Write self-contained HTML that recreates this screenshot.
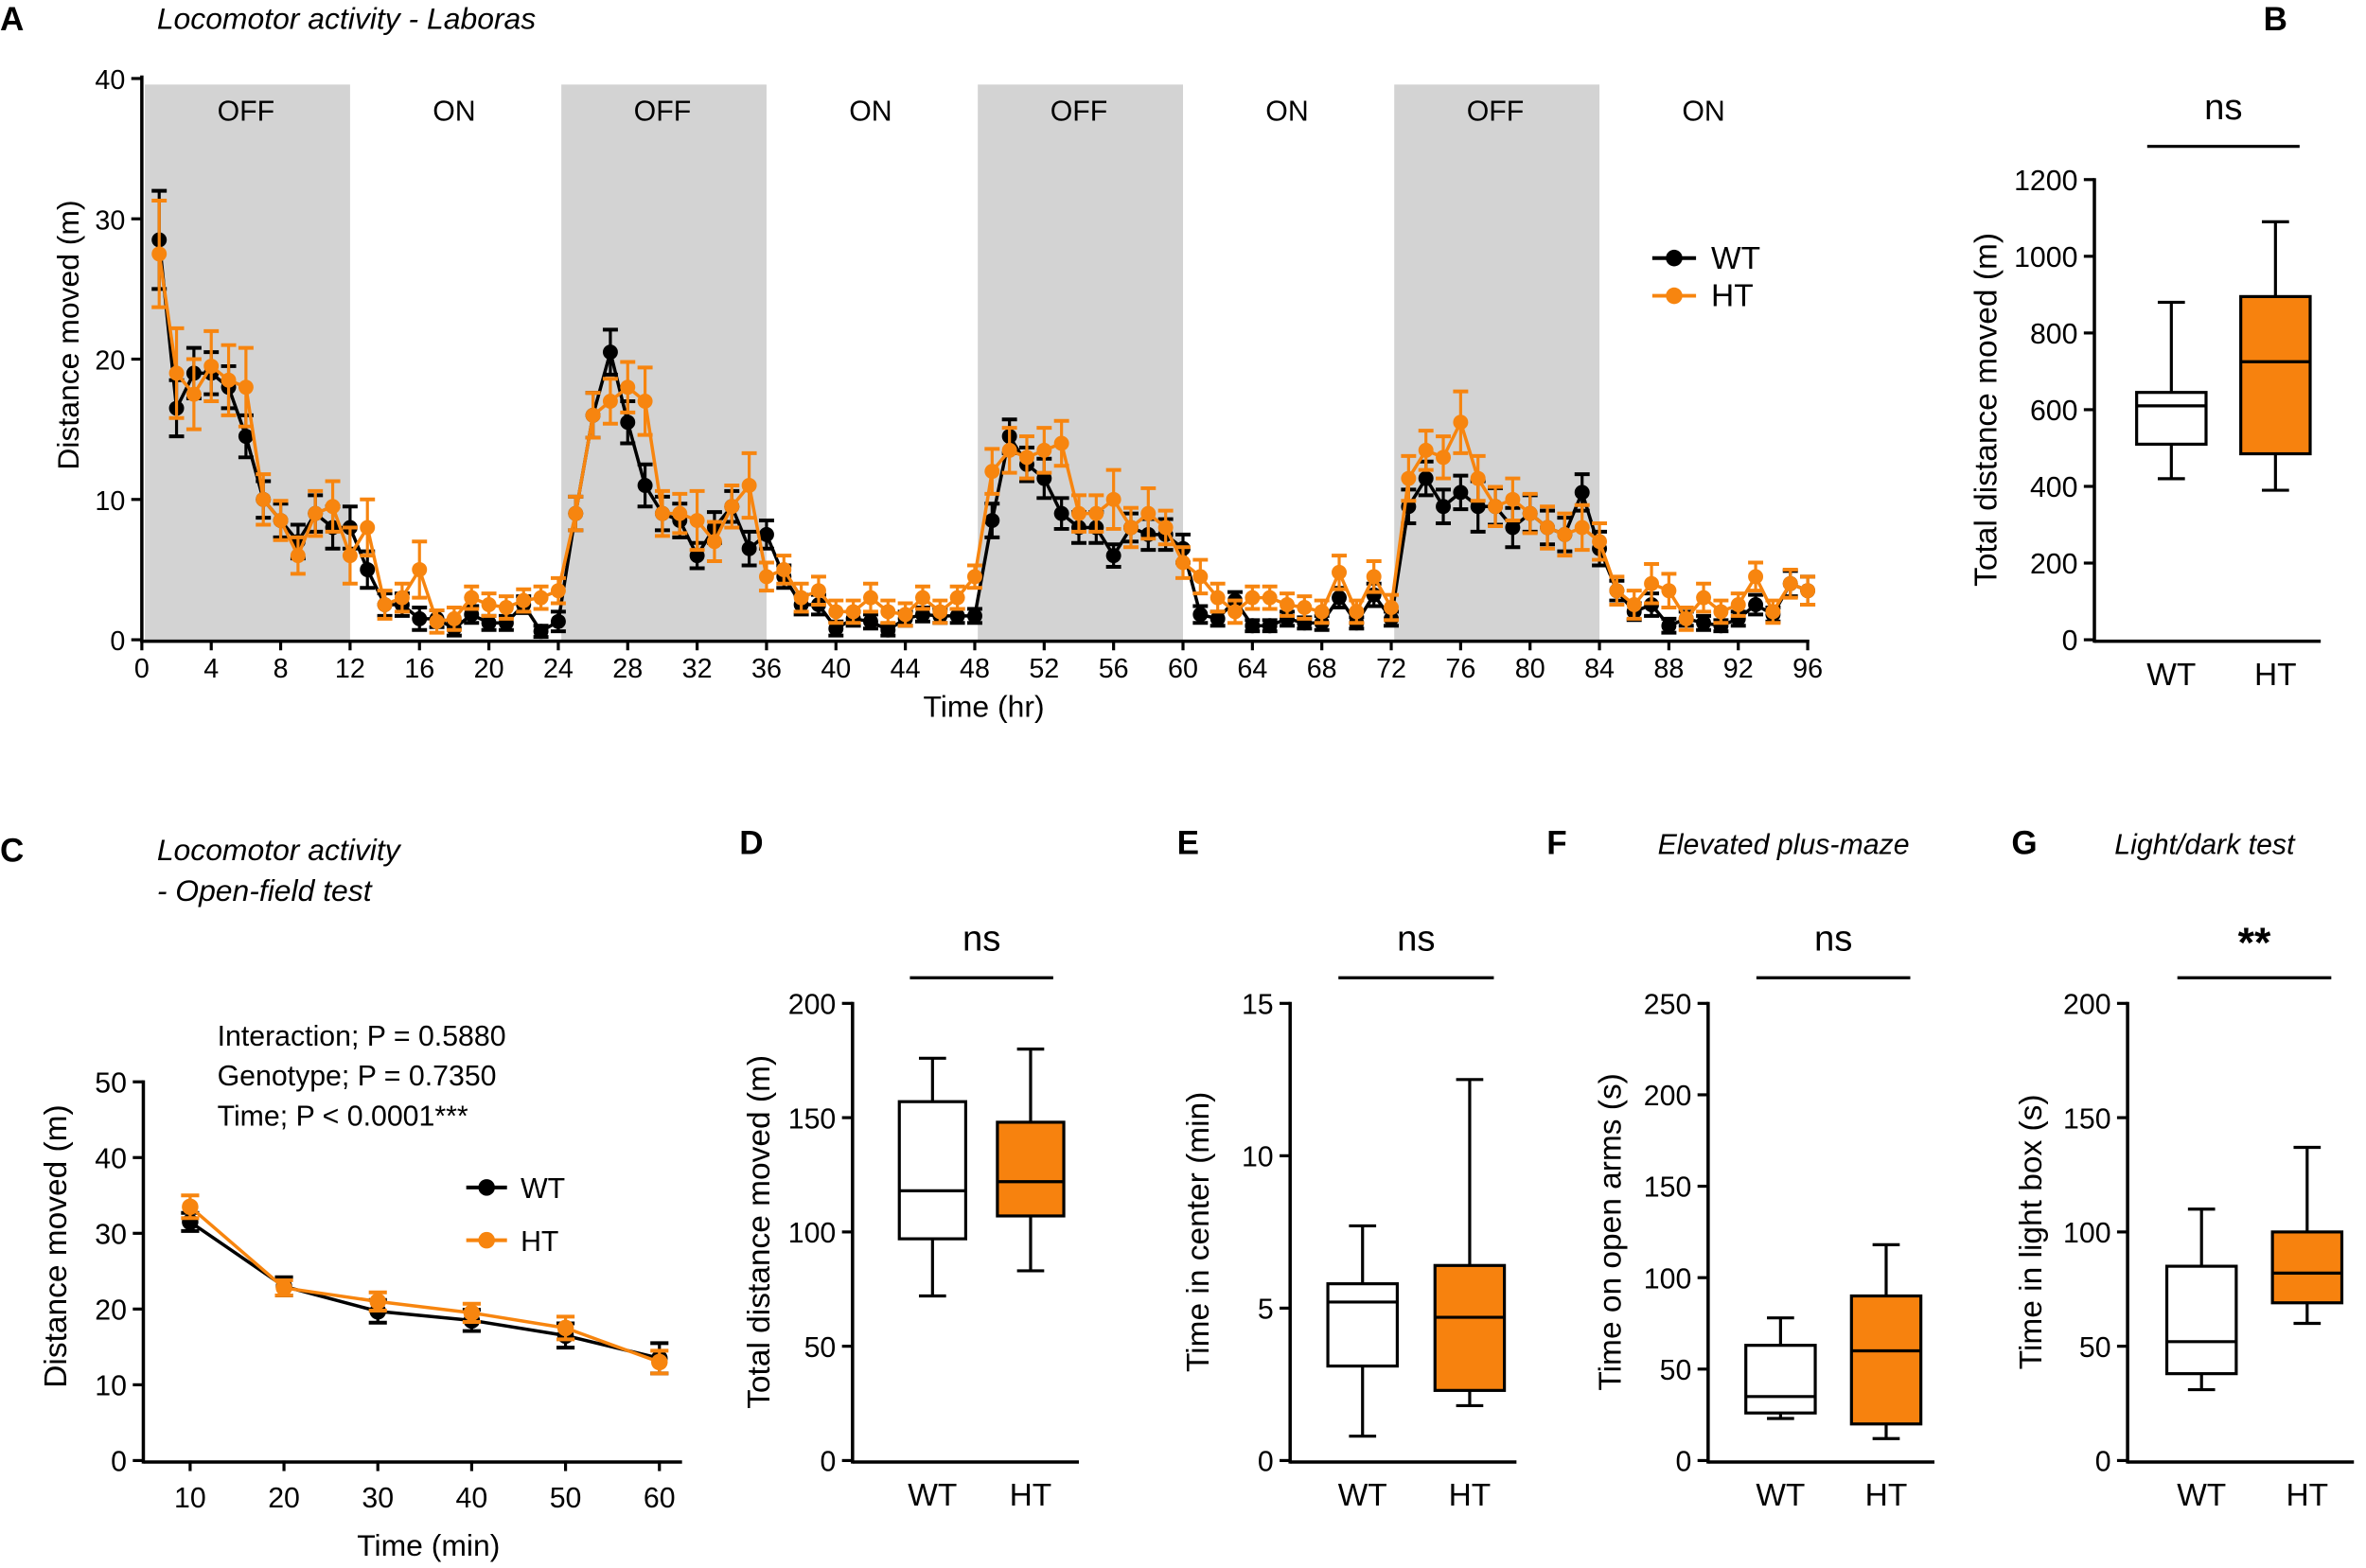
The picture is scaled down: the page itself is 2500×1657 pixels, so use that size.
<!DOCTYPE html>
<html><head><meta charset="utf-8"><style>
html,body{margin:0;padding:0;background:#fff}
svg{display:block}
text{font-family:"Liberation Sans",Arial,sans-serif;fill:#000}
</style></head><body>
<svg id="fig" width="2500" height="1657" viewBox="0 0 1568 1039.2" xmlns="http://www.w3.org/2000/svg"></svg>
<script>
// ---------- Panel A data ----------
const hours = Array.from({length:96},(_,i)=>i+1);
const wtA = [28.5,16.5,19,19,18,14.5,10,8.5,7,9,8,8,5,2.5,2.5,1.5,1.5,0.8,1.8,1.2,1.2,2.5,0.6,1.3,
 9,16,20.5,15.5,11,9,8.5,6,8,9.5,6.5,7.5,4.5,2.5,2.5,0.8,1.5,1.3,0.7,1.5,1.8,1.7,1.7,1.7,
 8.5,14.5,12.5,11.5,9,8,8,6,8,7.5,7.5,6.5,1.8,1.5,2.8,1,1,1.5,1.2,1.2,3,1.2,3.2,1.5,
 9.5,11.5,9.5,10.5,9.5,9.5,8,9,8,7.5,10.5,6.5,3.5,2,2.5,1,1.5,1.2,1,1.5,2.5,1.8,4,3.5];
const htA = [27.5,19,17.5,19.5,18.5,18,10,8.5,6,9,9.5,6,8,2.5,3,5,1.3,1.5,3,2.5,2.3,2.8,3,3.5,
 9,16,17,18,17,9,9,8.5,7,9.5,11,4.5,5,3,3.5,2,2,3,2,1.8,3,2,3,4.5,
 12,13.5,13,13.5,14,9,9,10,8,9,8,5.5,4.5,3,2,3,3,2.5,2.3,2,4.8,2,4.5,2.3,
 11.5,13.5,13,15.5,11.5,9.5,10,9,8,7.5,8,7,3.5,2.5,4,3.5,1.5,3,2,2.5,4.5,2,4,3.5];
const wtErrA = [3.5,2,1.8,1.5,1.5,1.5,1.3,1.2,1.2,1.3,1.5,1.5,1.3,0.8,0.8,0.8,0.6,0.5,0.6,0.5,0.5,0.6,0.4,0.7,
 1.2,1.6,1.6,1.5,1.5,1.2,1.2,0.9,1.1,1.1,1.2,1,0.8,0.7,0.7,0.5,0.5,0.5,0.4,0.5,0.5,0.5,0.5,0.5,
 1.2,1.2,1.2,1.4,1.1,1.1,1.1,0.8,1,1.1,1.1,1,0.6,0.5,0.6,0.4,0.4,0.5,0.4,0.5,0.7,0.4,0.8,0.5,
 1.2,1.2,1.2,1.2,1.8,1.3,1.4,1.3,1.2,1.2,1.3,1.2,0.7,0.6,0.8,0.5,0.5,0.5,0.4,0.5,0.7,0.5,0.9,1];
const htErrA = [3.8,3.2,2.5,2.5,2.5,2.8,1.8,1.4,1.3,1.6,1.8,2,2,1,1,2,0.8,0.8,0.8,0.8,0.8,0.8,0.8,0.9,
 1.2,1.6,1.6,1.8,2.4,1.6,1.4,2.1,1.4,1.5,2.3,1,1,1,1,0.8,0.8,1,0.8,0.8,0.8,0.8,0.8,0.8,
 1.6,1.6,1.5,1.6,1.6,1.3,1.3,2.1,1.4,1.8,1.2,1.1,1.2,1,0.8,0.8,0.8,0.8,0.8,0.8,1.2,0.8,1.1,0.9,
 1.6,1.4,1.5,2.2,1.6,1.4,1.5,1.4,1.5,1.5,1.6,1.3,1,1,1.4,1.2,0.8,1,0.8,0.8,1,0.8,1,1];
const aYTicks = [0,10,20,30,40];
const aXTicks = Array.from({length:25},(_,i)=>i*4);
const phases = [[0,12,'OFF'],[12,24,'ON'],[24,36,'OFF'],[36,48,'ON'],[48,60,'OFF'],[60,72,'ON'],[72,84,'OFF'],[84,96,'ON']];

// ---------- Panel C data ----------
const minutes = [10,20,30,40,50,60];
const wtC = [31.5,23,19.7,18.5,16.5,13.5];
const htC = [33.5,22.8,21,19.5,17.5,13];
const wtErrC = [1.2,1.2,1.5,1.4,1.6,2];
const htErrC = [1.5,1,1.2,1.2,1.5,1.5];
const cYTicks = [0,10,20,30,40,50];

// ---------- Box plot data [min,q1,median,q3,max] ----------
const boxB = {wt:[420,510,610,645,880], ht:[390,485,725,895,1090]};
const boxD = {wt:[72,97,118,157,176], ht:[83,107,122,148,180]};
const boxE = {wt:[0.8,3.1,5.2,5.8,7.7], ht:[1.8,2.3,4.7,6.4,12.5]};
const boxF = {wt:[23,26,35,63,78], ht:[12,20,60,90,118]};
const boxG = {wt:[31,38,52,85,110], ht:[60,69,82,100,137]};
const ticksB = [0,200,400,600,800,1000,1200];
const ticksD = [0,50,100,150,200];
const ticksE = [0,5,10,15];
const ticksF = [0,50,100,150,200,250];
const ticksG = [0,50,100,150,200];

const OR = '#f7850f';
const svg = document.getElementById('fig');
const NS = 'http://www.w3.org/2000/svg';
function mk(tag, attrs, parent){
  const e = document.createElementNS(NS, tag);
  for (const k in attrs) e.setAttribute(k, attrs[k]);
  (parent||svg).appendChild(e);
  return e;
}
function txt(x,y,s,size,anchor,extra){
  const t = mk('text', Object.assign({x:x,y:y,'font-size':size,'text-anchor':anchor||'start'}, extra||{}));
  t.textContent = s;
  return t;
}
function lin(x1,y1,x2,y2,c,w){ return mk('line',{x1:x1,y1:y1,x2:x2,y2:y2,stroke:c||'#000','stroke-width':w||2}); }

// ================= Panel A =================
(function(){
  const x0=94, x1=1198, y0=424, y1=52;
  const X = h => x0 + (x1-x0)*h/96;
  const Y = v => y0 - (y0-y1)*v/40;
  let e = txt(0,20,'A',22,'start',{'font-weight':'bold'});
   
  e = txt(104,19,'Locomotor activity - Laboras',20,'start',{'font-style':'italic'});
   
  phases.forEach(p=>{
    if(p[2]==='OFF'){
      const r = mk('rect',{x:X(p[0])+2,y:56,width:X(p[1])-X(p[0])-2,height:y0-56,fill:'#d3d3d3'});
       
    }
    const t = txt((X(p[0])+X(p[1]))/2,80,p[2],19,'middle');
     
  });
  e = lin(x0,y0+1,x1+1,y0+1,'#000',2.2);  
  e = lin(x0,y1-2,x0,y0+2,'#000',2.2);  
  aYTicks.forEach(v=>{
    lin(x0-7,Y(v),x0,Y(v));
    const t = txt(x0-11,Y(v)+7,String(v),18,'end');
     
  });
  aXTicks.forEach(v=>{
    lin(X(v),y0,X(v),y0+7);
    const t = txt(X(v),y0+25,String(v),18,'middle');
     
  });
  e = txt(652,475,'Time (hr)',20,'middle');  
  e = txt(0,0,'Distance moved (m)',20,'middle',{transform:'translate(52,222) rotate(-90)'});
   
  function series(vals, errs, col, name){
    const g = mk('g',{});
     
    vals.forEach((v,i)=>{
      const x=X(hours[i]);
      mk('line',{x1:x,y1:Y(v-errs[i]),x2:x,y2:Y(v+errs[i]),stroke:col,'stroke-width':2},g);
      mk('line',{x1:x-5,y1:Y(v+errs[i]),x2:x+5,y2:Y(v+errs[i]),stroke:col,'stroke-width':2.5},g);
      mk('line',{x1:x-5,y1:Y(v-errs[i]),x2:x+5,y2:Y(v-errs[i]),stroke:col,'stroke-width':2.5},g);
    });
    mk('polyline',{points:vals.map((v,i)=>X(hours[i])+','+Y(v)).join(' '),fill:'none',stroke:col,'stroke-width':2.2},g);
    vals.forEach((v,i)=>{
      const c = mk('circle',{cx:X(hours[i]),cy:Y(v),r:5,fill:col},g);
       
    });
  }
  series(wtA, wtErrA, '#000', 'a-wt');
  series(htA, htErrA, OR, 'a-ht');
  [['WT','#000',171],['HT',OR,196]].forEach(l=>{
    const g = mk('g',{});
     
    mk('line',{x1:1095,y1:l[2],x2:1124,y2:l[2],stroke:l[1],'stroke-width':2.5},g);
    mk('circle',{cx:1109.5,cy:l[2],r:5.5,fill:l[1]},g);
    const t = document.createElementNS(NS,'text');
    t.setAttribute('x',1134); t.setAttribute('y',l[2]+7); t.setAttribute('font-size',21);
    t.textContent=l[0]; g.appendChild(t);
  });
})();

// ================= Box plots =================
function boxPanel(o){
  const Y = v => o.y0 - (o.y0-o.yTop)*v/o.max;
  let e = txt(o.lx,o.ly,o.letter,22,'start',{'font-weight':'bold'});
   
  if(o.title){ e = txt(o.tx,o.ly,o.title,19,'middle',{'font-style':'italic'});
      }
  e = lin(o.ax,Y(0)+1,o.ax+150,Y(0)+1,'#000',2.2);  
  e = lin(o.ax,Y(o.max)-1,o.ax,Y(0)+2,'#000',2.2);  
  o.ticks.forEach(v=>{
    lin(o.ax-7,Y(v),o.ax,Y(v));
    const t = txt(o.ax-11,Y(v)+7,String(v),19,'end');
     
  });
  e = txt(0,0,o.ytitle,21,'middle',{transform:'translate('+o.ytx+','+(o.y0+o.yTop)/2+') rotate(-90)'});
   
  [['WT',o.wx,o.data.wt,'#fff'],['HT',o.hx,o.data.ht,'#f7820e']].forEach(b=>{
    const g = mk('g',{});
     
    const d=b[2], cx=b[1]+o.bw/2;
    mk('line',{x1:cx,y1:Y(d[0]),x2:cx,y2:Y(d[4]),stroke:'#000','stroke-width':2},g);
    mk('line',{x1:cx-9,y1:Y(d[0]),x2:cx+9,y2:Y(d[0]),stroke:'#000','stroke-width':2},g);
    mk('line',{x1:cx-9,y1:Y(d[4]),x2:cx+9,y2:Y(d[4]),stroke:'#000','stroke-width':2},g);
    mk('rect',{x:b[1],y:Y(d[3]),width:o.bw,height:Y(d[1])-Y(d[3]),fill:b[3],stroke:'#000','stroke-width':2},g);
    mk('line',{x1:b[1],y1:Y(d[2]),x2:b[1]+o.bw,y2:Y(d[2]),stroke:'#000','stroke-width':2},g);
    const t = txt(cx,Y(0)+30,b[0],21,'middle');
     
  });
  e = lin(o.wx+7,o.sigY,o.hx+o.bw-7,o.sigY,'#000',2);  
  e = txt((o.wx+o.hx+o.bw)/2,o.sigY-(o.sig==='**'?14:18),o.sig,o.sig==='**'?28:24,'middle',o.sig==='**'?{'font-weight':'bold'}:{});
   
}
boxPanel({letter:'B',lx:1500,ly:20,ax:1388,y0:424,yTop:119,max:1200,ticks:ticksB,data:boxB,wx:1416,hx:1485,bw:46,sigY:97,sig:'ns',ytitle:'Total distance moved (m)',ytx:1323});
boxPanel({letter:'D',lx:490,ly:566,title:null,ax:565,y0:968,yTop:665,max:200,ticks:ticksD,data:boxD,wx:596,hx:661,bw:44,sigY:648,sig:'ns',ytitle:'Total distance moved (m)',ytx:510});
boxPanel({letter:'E',lx:780,ly:566,title:null,ax:855,y0:968,yTop:665,max:15,ticks:ticksE,data:boxE,wx:880,hx:951,bw:46,sigY:648,sig:'ns',ytitle:'Time in center (min)',ytx:801});
boxPanel({letter:'F',lx:1025,ly:566,tx:1182,title:'Elevated plus-maze',ax:1132,y0:968,yTop:665,max:250,ticks:ticksF,data:boxF,wx:1157,hx:1227,bw:46,sigY:648,sig:'ns',ytitle:'Time on open arms (s)',ytx:1074});
boxPanel({letter:'G',lx:1333,ly:566,tx:1461,title:'Light/dark test',ax:1410,y0:968,yTop:665,max:200,ticks:ticksG,data:boxG,wx:1436,hx:1506,bw:46,sigY:648,sig:'**',ytitle:'Time in light box (s)',ytx:1353});

// ================= Panel C =================
(function(){
  const x0=95, y0=968, yTop=717;
  const X = m => 126 + (437-126)*(m-10)/50;
  const Y = v => y0 - (y0-yTop)*v/50;
  let e = txt(0,571,'C',22,'start',{'font-weight':'bold'});
   
  e = txt(104,570,'Locomotor activity',20,'start',{'font-style':'italic'});
   
  e = txt(104,597,'- Open-field test',20,'start',{'font-style':'italic'});
   
  ['Interaction; P = 0.5880','Genotype; P = 0.7350','Time; P < 0.0001***'].forEach((s,i)=>{
    const t = txt(144,693+i*26.5,s,19,'start');
     
  });
  e = lin(x0,y0+1,452,y0+1,'#000',2.2);  
  e = lin(x0,Y(50)-1,x0,y0+2,'#000',2.2);  
  cYTicks.forEach(v=>{
    lin(x0-7,Y(v),x0,Y(v));
    const t = txt(x0-11,Y(v)+7,String(v),19,'end');
     
  });
  minutes.forEach(m=>{
    lin(X(m),y0,X(m),y0+7);
    const t = txt(X(m),y0+31,String(m),19,'middle');
     
  });
  e = txt(284,1031,'Time (min)',20,'middle');  
  e = txt(0,0,'Distance moved (m)',21,'middle',{transform:'translate(44,826) rotate(-90)'});
   
  function series(vals, errs, col, name){
    const g = mk('g',{});
     
    vals.forEach((v,i)=>{
      const x=X(minutes[i]);
      mk('line',{x1:x,y1:Y(v-errs[i]),x2:x,y2:Y(v+errs[i]),stroke:col,'stroke-width':2},g);
      mk('line',{x1:x-6,y1:Y(v+errs[i]),x2:x+6,y2:Y(v+errs[i]),stroke:col,'stroke-width':2.5},g);
      mk('line',{x1:x-6,y1:Y(v-errs[i]),x2:x+6,y2:Y(v-errs[i]),stroke:col,'stroke-width':2.5},g);
    });
    mk('polyline',{points:vals.map((v,i)=>X(minutes[i])+','+Y(v)).join(' '),fill:'none',stroke:col,'stroke-width':2.2},g);
    vals.forEach((v,i)=>{
      const c = mk('circle',{cx:X(minutes[i]),cy:Y(v),r:5.5,fill:col},g);
       
    });
  }
  series(wtC, wtErrC, '#000', 'c-wt');
  series(htC, htErrC, OR, 'c-ht');
  [['WT','#000',787],['HT',OR,822]].forEach(l=>{
    const g = mk('g',{});
     
    mk('line',{x1:309,y1:l[2],x2:336,y2:l[2],stroke:l[1],'stroke-width':2.5},g);
    mk('circle',{cx:322.5,cy:l[2],r:5.5,fill:l[1]},g);
    const t = document.createElementNS(NS,'text');
    t.setAttribute('x',345); t.setAttribute('y',l[2]+7); t.setAttribute('font-size',19);
    t.textContent=l[0]; g.appendChild(t);
  });
})();
</script>
</body></html>
